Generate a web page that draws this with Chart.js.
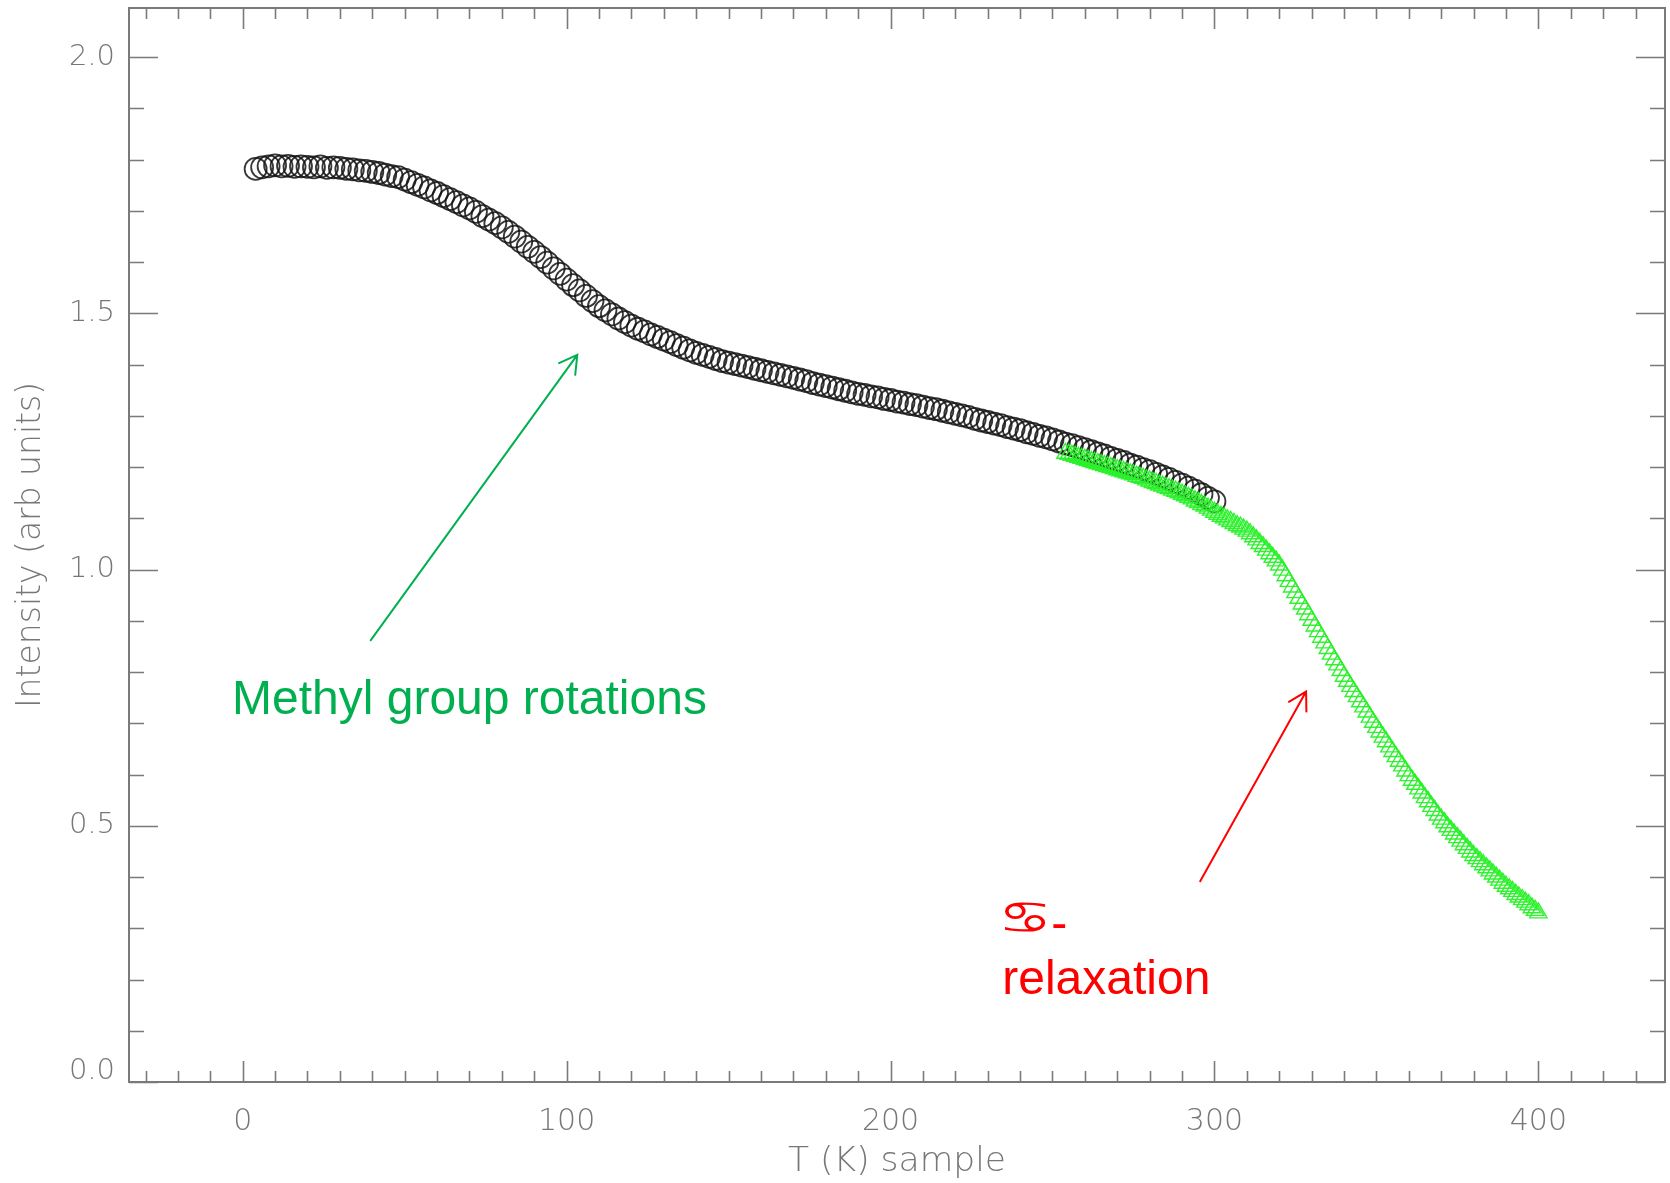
<!DOCTYPE html>
<html>
<head>
<meta charset="utf-8">
<script src="https://cdn.jsdelivr.net/npm/chart.js@4/dist/chart.umd.min.js"></script>
<style>
  html, body { margin: 0; padding: 0; background: #ffffff; }
  #wrap { width: 1670px; height: 1183px; }
</style>
</head>
<body>
<div id="wrap"><canvas id="c" width="1670" height="1183"></canvas></div>
<script>
// ---------------- DATA ----------------
// Black open circles: temperature (K) and intensity (arb units)
const circleT = [
  4,6,8,10,12,14,16,18,20,22,24,26,28,30,32,34,36,38,40,42,44,46,48,50,52,54,56,58,60,62,64,66,68,70,72,74,76,78,80,
  82,84,86,88,90,92,94,96,98,100,102,104,106,108,110,112,114,116,118,120,122,124,126,128,130,132,134,136,138,140,
  142,144,146,148,150,152,154,156,158,160,162,164,166,168,170,172,174,176,178,180,182,184,186,188,190,192,194,196,198,200,
  202,204,206,208,210,212,214,216,218,220,222,224,226,228,230,232,234,236,238,240,242,244,246,248,250,252,254,256,258,260,
  262,264,266,268,270,272,274,276,278,280,282,284,286,288,290,292,294,296,298,300
];
const circleI = [
  1.782,1.785,1.787,1.789,1.787,1.788,1.786,1.787,1.786,1.785,1.787,1.784,1.785,1.784,1.782,1.781,1.779,1.778,1.776,1.774,1.771,1.768,1.766,1.761,1.756,1.751,1.746,1.740,1.735,1.729,1.723,1.717,1.711,1.705,1.698,1.690,1.683,1.676,1.668,
  1.659,1.650,1.640,1.630,1.620,1.610,1.599,1.588,1.577,1.566,1.555,1.545,1.534,1.524,1.514,1.506,1.498,1.490,1.483,1.476,1.470,1.465,1.459,1.454,1.449,1.444,1.438,1.433,1.428,1.423,
  1.419,1.415,1.411,1.407,1.404,1.401,1.398,1.395,1.392,1.389,1.386,1.383,1.380,1.377,1.374,1.371,1.368,1.364,1.361,1.358,1.355,1.352,1.349,1.346,1.343,1.341,1.338,1.336,1.333,1.331,
  1.328,1.326,1.323,1.321,1.318,1.315,1.313,1.310,1.307,1.304,1.301,1.298,1.294,1.291,1.288,1.285,1.282,1.278,1.275,1.272,1.268,1.265,1.261,1.258,1.254,1.250,1.246,1.243,1.239,1.235,
  1.231,1.227,1.223,1.218,1.214,1.210,1.205,1.201,1.196,1.192,1.187,1.182,1.177,1.171,1.166,1.160,1.154,1.147,1.140,1.133
];
// Green open triangles
const triT = [
  254,255,256,257,258,259,260,261,262,263,264,265,266,267,268,269,270,271,272,273,274,275,276,277,278,279,280,
  281,282,283,284,285,286,287,288,289,290,291,292,293,294,295,296,297,298,299,300,
  301,302,303,304,305,306,307,308,309,310,311,312,313,314,315,316,317,318,319,320,
  321,322,323,324,325,326,327,328,329,330,331,332,333,334,335,336,337,338,339,340,
  341,342,343,344,345,346,347,348,349,350,351,352,353,354,355,356,357,358,359,360,
  361,362,363,364,365,366,367,368,369,370,371,372,373,374,375,376,377,378,379,380,
  381,382,383,384,385,386,387,388,389,390,391,392,393,394,395,396,397,398,399,400
];
const triI = [
  1.227,1.225,1.223,1.221,1.219,1.217,1.215,1.213,1.211,1.209,1.207,1.205,1.203,1.201,1.199,1.197,1.195,1.193,1.191,1.189,1.187,1.185,1.182,1.180,1.178,1.175,1.173,
  1.170,1.168,1.165,1.163,1.160,1.158,1.155,1.153,1.150,1.147,1.144,1.141,1.138,1.134,1.131,1.127,1.124,1.120,1.116,1.112,
  1.108,1.104,1.101,1.097,1.094,1.090,1.086,1.083,1.079,1.075,1.070,1.064,1.058,1.051,1.045,1.038,1.031,1.024,1.017,1.009,
  0.999,0.988,0.977,0.966,0.955,0.944,0.933,0.923,0.912,0.901,0.890,0.879,0.868,0.857,0.846,0.835,0.824,0.814,0.803,0.792,
  0.782,0.772,0.762,0.752,0.742,0.732,0.722,0.712,0.702,0.692,0.683,0.673,0.664,0.654,0.645,0.635,0.626,0.617,0.607,0.598,
  0.589,0.581,0.572,0.564,0.555,0.547,0.538,0.530,0.521,0.513,0.506,0.498,0.491,0.484,0.477,0.470,0.463,0.456,0.449,0.442,
  0.436,0.430,0.424,0.418,0.412,0.406,0.400,0.394,0.388,0.382,0.377,0.372,0.366,0.361,0.356,0.351,0.346,0.340,0.335,0.330
];
// Tick labels
const xTickLabels = [0, 100, 200, 300, 400];
const yTickLabels = [0.0, 0.5, 1.0, 1.5, 2.0];
const xTitle = 'T (K) sample';
const yTitle = 'Intensity (arb units)';
const annoMethyl = 'Methyl group rotations';
const annoSymbol = '\u264B';
const annoDash = '-';
const annoRelax = 'relaxation';

// ---------------- STYLE / LAYOUT ----------------
const AXIS_COLOR = '#7a7a7a';
const LABEL_COLOR = '#777777';
const AXIS_FONT = "'DejaVu Sans', sans-serif";
const xRange = { min: -35.1, max: 439.1 };
const yRange = { min: 0, max: 2.096 };

// annotation anchor points in data coordinates (positions, not data)
const annotations = {
  methylText: { x: -3.3, y: 0.718 },
  greenArrow: { from: { x: 39.5, y: 0.862 }, to: { x: 103.3, y: 1.419 } },
  symText: { x: 234.5, y: 0.279 },
  relaxText: { x: 234.5, y: 0.172 },
  redArrow: { from: { x: 295.6, y: 0.392 }, to: { x: 328.3, y: 0.762 } }
};

const circles = circleT.map((t, i) => ({ x: t, y: circleI[i] }));
const tris = triT.map((t, i) => ({ x: t, y: triI[i] }));

function drawArrow(ctx, x1, y1, x2, y2, color) {
  const ang = Math.atan2(y1 - y2, x1 - x2);
  const len = 20, spread = Math.PI / 6;
  ctx.save();
  ctx.strokeStyle = color;
  ctx.lineWidth = 2;
  ctx.lineCap = 'round';
  ctx.beginPath();
  ctx.moveTo(x1, y1); ctx.lineTo(x2, y2);
  ctx.moveTo(x2 + len * Math.cos(ang + spread), y2 + len * Math.sin(ang + spread));
  ctx.lineTo(x2, y2);
  ctx.lineTo(x2 + len * Math.cos(ang - spread), y2 + len * Math.sin(ang - spread));
  ctx.stroke();
  ctx.restore();
}

const framePlugin = {
  id: 'frameTicks',
  beforeDatasetsDraw(chart) {
    const { ctx, chartArea: a, scales: { x, y } } = chart;
    ctx.save();
    ctx.strokeStyle = AXIS_COLOR;
    ctx.lineWidth = 2;
    ctx.strokeRect(a.left, a.top, a.right - a.left, a.bottom - a.top);
    ctx.lineWidth = 1.6;
    ctx.beginPath();
    for (let v = -30; v <= 430; v += 10) {
      const px = Math.round(x.getPixelForValue(v)) + 0.5;
      const major = (v % 100 === 0);
      const L = major ? 21 : 11;
      ctx.moveTo(px, a.bottom); ctx.lineTo(px, a.bottom - L);
      ctx.moveTo(px, a.top); ctx.lineTo(px, a.top + L);
    }
    for (let k = 0; k <= 20; k++) {
      const v = k / 10;
      const py = Math.round(y.getPixelForValue(v)) + 0.5;
      const major = (k % 5 === 0);
      const L = major ? 29 : 15;
      ctx.moveTo(a.left, py); ctx.lineTo(a.left + L, py);
      ctx.moveTo(a.right, py); ctx.lineTo(a.right - L, py);
    }
    ctx.stroke();
    ctx.restore();
  },
  afterDatasetsDraw(chart) {
    const { ctx, scales: { x, y } } = chart;
    const P = p => [x.getPixelForValue(p.x), y.getPixelForValue(p.y)];
    ctx.save();
    ctx.textBaseline = 'alphabetic';
    ctx.textAlign = 'left';
    ctx.font = "48px 'Liberation Sans', Arial, sans-serif";
    ctx.fillStyle = '#00B050';
    let [mx, my] = P(annotations.methylText);
    ctx.fillText(annoMethyl, mx, my);
    const g = annotations.greenArrow;
    drawArrow(ctx, ...P(g.from), ...P(g.to), '#00B050');
    ctx.fillStyle = '#FF0000';
    let [sx, sy] = P(annotations.symText);
    ctx.font = "45px 'DejaVu Sans', sans-serif";
    ctx.save();
    ctx.translate(sx - 4, sy - 6);
    ctx.scale(1.33, 1);
    ctx.fillText(annoSymbol, 0, 0);
    ctx.restore();
    ctx.font = "48px 'Liberation Sans', Arial, sans-serif";
    ctx.fillText(annoDash, sx + 49, sy);
    let [rx, ry] = P(annotations.relaxText);
    ctx.fillText(annoRelax, rx, ry);
    const r = annotations.redArrow;
    drawArrow(ctx, ...P(r.from), ...P(r.to), '#FF0000');
    ctx.restore();
  }
};

const tickFont = c => ({
  family: AXIS_FONT, size: 29, weight: 200,
  lineHeight: (c.tick && c.tick.value === 0) ? '22px' : 1.2
});

new Chart(document.getElementById('c'), {
  type: 'scatter',
  data: {
    datasets: [
      {
        label: 'triangles',
        data: tris,
        order: 0,
        pointStyle: 'triangle',
        pointRadius: 10,
        pointBorderWidth: 1.4,
        pointBorderColor: 'rgba(40,240,40,0.95)',
        pointBackgroundColor: 'rgba(0,0,0,0)',
        showLine: false
      },
      {
        label: 'circles',
        data: circles,
        order: 1,
        pointStyle: 'circle',
        pointRadius: 11,
        pointBorderWidth: 1.8,
        pointBorderColor: 'rgba(20,20,20,0.85)',
        pointBackgroundColor: 'rgba(0,0,0,0)',
        showLine: false
      }
    ]
  },
  options: {
    responsive: false,
    devicePixelRatio: 1,
    animation: false,
    events: [],
    layout: { autoPadding: false, padding: { top: 8, right: 5, left: 0, bottom: 0 } },
    plugins: { legend: { display: false }, tooltip: { enabled: false } },
    scales: {
      x: {
        type: 'linear',
        min: xRange.min, max: xRange.max,
        grid: { display: false, drawTicks: false },
        border: { display: false },
        afterBuildTicks: s => { s.ticks = xTickLabels.map(v => ({ value: v })); },
        afterFit: s => { s.height = 101; s.paddingLeft = 0; s.paddingRight = 0; },
        ticks: {
          padding: 22,
          color: LABEL_COLOR,
          font: { family: AXIS_FONT, size: 30, weight: 200 },
          maxRotation: 0,
          callback: v => String(v)
        },
        title: {
          display: true, text: xTitle, color: LABEL_COLOR,
          font: { family: AXIS_FONT, size: 34.5, weight: 200 },
          padding: { top: 0, bottom: 0 }
        }
      },
      y: {
        type: 'linear',
        min: yRange.min, max: yRange.max,
        grid: { display: false, drawTicks: false },
        border: { display: false },
        afterBuildTicks: s => { s.ticks = yTickLabels.map(v => ({ value: v })); },
        afterFit: s => { s.width = 129; s.paddingTop = 0; s.paddingBottom = 0; },
        ticks: {
          padding: 14,
          color: LABEL_COLOR,
          font: tickFont,
          callback: v => (v === 0 ? ['0.0', ''] : Number(v).toFixed(1))
        },
        title: {
          display: true, text: yTitle, color: LABEL_COLOR,
          font: { family: AXIS_FONT, size: 33, weight: 200 },
          padding: { top: 12, bottom: 0 }
        }
      }
    }
  },
  plugins: [framePlugin]
});
</script>
</body>
</html>
